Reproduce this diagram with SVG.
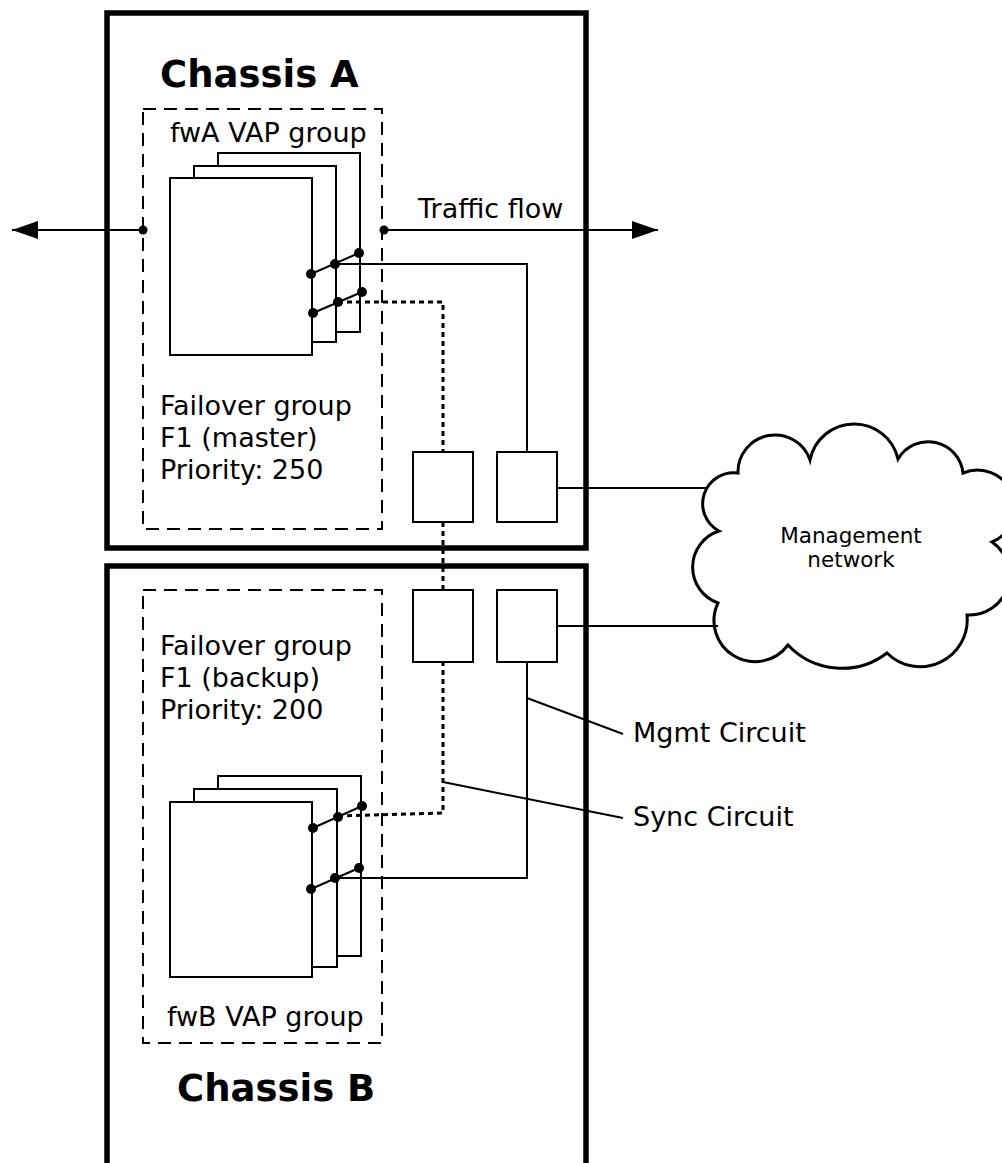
<svg xmlns="http://www.w3.org/2000/svg" width="1002" height="1163" viewBox="0 0 1002 1163">
  <style>
    text { font-family: "DejaVu Sans", Verdana, sans-serif; fill: #000; }
    .title { font-size: 37px; font-weight: bold; }
    .lbl { font-size: 27px; }
    .small { font-size: 21.5px; }
    .chassis { fill: #fff; stroke: #000; stroke-width: 5.5; }
    .group { fill: none; stroke: #000; stroke-width: 2; stroke-dasharray: 13 8; }
    .page { fill: #fff; stroke: #000; stroke-width: 2; }
    .port { fill: #fff; stroke: #000; stroke-width: 2; }
    .wire { fill: none; stroke: #000; stroke-width: 2; }
    .sync { fill: none; stroke: #000; stroke-width: 3; stroke-dasharray: 5 4; }
    .dot { fill: #000; }
  </style>
  <defs>
    <marker id="arrow" viewBox="0 0 26 18" refX="26" refY="9" markerWidth="26" markerHeight="18" markerUnits="userSpaceOnUse" orient="auto">
      <path d="M0,0 L26,9 L0,18 Z" fill="#000"/>
    </marker>
  </defs>
  <rect width="1002" height="1163" fill="#fff"/>

  <!-- Chassis A -->
  <g id="chassis-a">
    <rect class="chassis" x="107" y="13" width="479" height="535"/>
    <text class="title" x="160" y="87">Chassis A</text>
  </g>

  <!-- Chassis B (runs off the bottom edge) -->
  <g id="chassis-b">
    <rect class="chassis" x="107" y="566" width="479" height="620"/>
    <text class="title" x="177" y="1101">Chassis B</text>
  </g>

  <!-- fwA VAP group -->
  <g id="fwa-vap-group">
    <rect class="group" x="143" y="109" width="239" height="420"/>
    <text class="lbl" x="170" y="142">fwA VAP group</text>
    <rect class="page" x="218" y="153" width="142" height="179"/>
    <rect class="page" x="194" y="166" width="142" height="176"/>
    <rect class="page" x="170" y="178" width="142" height="177"/>
    <text class="lbl" x="160" y="415">Failover group</text>
    <text class="lbl" x="160" y="447">F1 (master)</text>
    <text class="lbl" x="160" y="479">Priority: 250</text>
  </g>

  <!-- fwB VAP group -->
  <g id="fwb-vap-group">
    <rect class="group" x="143" y="590" width="239" height="453"/>
    <text class="lbl" x="160" y="655">Failover group</text>
    <text class="lbl" x="160" y="687">F1 (backup)</text>
    <text class="lbl" x="160" y="719">Priority: 200</text>
    <rect class="page" x="218" y="776" width="143" height="180"/>
    <rect class="page" x="194" y="789" width="143" height="178"/>
    <rect class="page" x="170" y="802" width="142" height="175"/>
    <text class="lbl" x="167" y="1026">fwB VAP group</text>
  </g>

  <!-- Interface ports -->
  <g id="port-a-sync"><rect class="port" x="413" y="452" width="60" height="70"/></g>
  <g id="port-a-mgmt"><rect class="port" x="497" y="452" width="60" height="70"/></g>
  <g id="port-b-sync"><rect class="port" x="413" y="590" width="60" height="72"/></g>
  <g id="port-b-mgmt"><rect class="port" x="497" y="590" width="60" height="72"/></g>

  <!-- Management network cloud -->
  <g id="management-network">
    <path fill="#fff" stroke="#000" stroke-width="3" stroke-linejoin="miter"
      d="M719,531 A31,31 0 0 1 738,473 A37,37 0 0 1 810,460 A45,45 0 0 1 898,459 A35,35 0 0 1 963,473 A37,37 0 0 1 992,542 A40,40 0 0 1 967,615 A47,47 0 0 1 887,653 A74,74 0 0 1 788,645 A41,41 0 0 1 718,603 A38,38 0 0 1 719,531 Z"/>
    <text class="small" x="851" y="543" text-anchor="middle">Management</text>
    <text class="small" x="851" y="567" text-anchor="middle">network</text>
  </g>

  <!-- Connectors -->
  <g id="connectors">
    <!-- traffic flow -->
    <line class="wire" x1="143" y1="230" x2="12" y2="230" marker-end="url(#arrow)"/>
    <line class="wire" x1="384" y1="230" x2="658" y2="230" marker-end="url(#arrow)"/>
    <circle class="dot" cx="143" cy="230" r="4.5"/>
    <circle class="dot" cx="384" cy="230" r="4.5"/>
    <text class="lbl" x="418" y="218">Traffic flow</text>

    <!-- chassis A interface taps -->
    <line class="wire" x1="311" y1="274" x2="359" y2="253"/>
    <line class="wire" x1="313" y1="313" x2="362" y2="292"/>
    <circle class="dot" cx="311" cy="274" r="5"/>
    <circle class="dot" cx="335" cy="264" r="5"/>
    <circle class="dot" cx="359" cy="253" r="5"/>
    <circle class="dot" cx="313" cy="313" r="5"/>
    <circle class="dot" cx="338" cy="302" r="5"/>
    <circle class="dot" cx="362" cy="292" r="5"/>

    <!-- chassis B interface taps -->
    <line class="wire" x1="313" y1="828" x2="362" y2="806"/>
    <line class="wire" x1="311" y1="889" x2="359" y2="868"/>
    <circle class="dot" cx="313" cy="828" r="5"/>
    <circle class="dot" cx="338" cy="817" r="5"/>
    <circle class="dot" cx="362" cy="806" r="5"/>
    <circle class="dot" cx="311" cy="889" r="5"/>
    <circle class="dot" cx="335" cy="878" r="5"/>
    <circle class="dot" cx="359" cy="868" r="5"/>

    <!-- management circuit -->
    <polyline class="wire" points="335,264 527,264 527,452"/>
    <polyline class="wire" points="335,878 527,878 527,662"/>
    <line class="wire" x1="557" y1="488" x2="706" y2="488"/>
    <line class="wire" x1="557" y1="626" x2="718" y2="626"/>

    <!-- sync circuit -->
    <polyline class="sync" points="338,302 443,302 443,452"/>
    <line class="sync" x1="443" y1="522" x2="443" y2="590"/>
    <polyline class="sync" points="338,816 443,813 443,662"/>

    <!-- callouts -->
    <line class="wire" x1="527" y1="698" x2="623" y2="734"/>
    <line class="wire" x1="443" y1="782" x2="623" y2="818"/>
    <text class="lbl" x="633" y="742">Mgmt Circuit</text>
    <text class="lbl" x="633" y="826">Sync Circuit</text>
  </g>
</svg>
